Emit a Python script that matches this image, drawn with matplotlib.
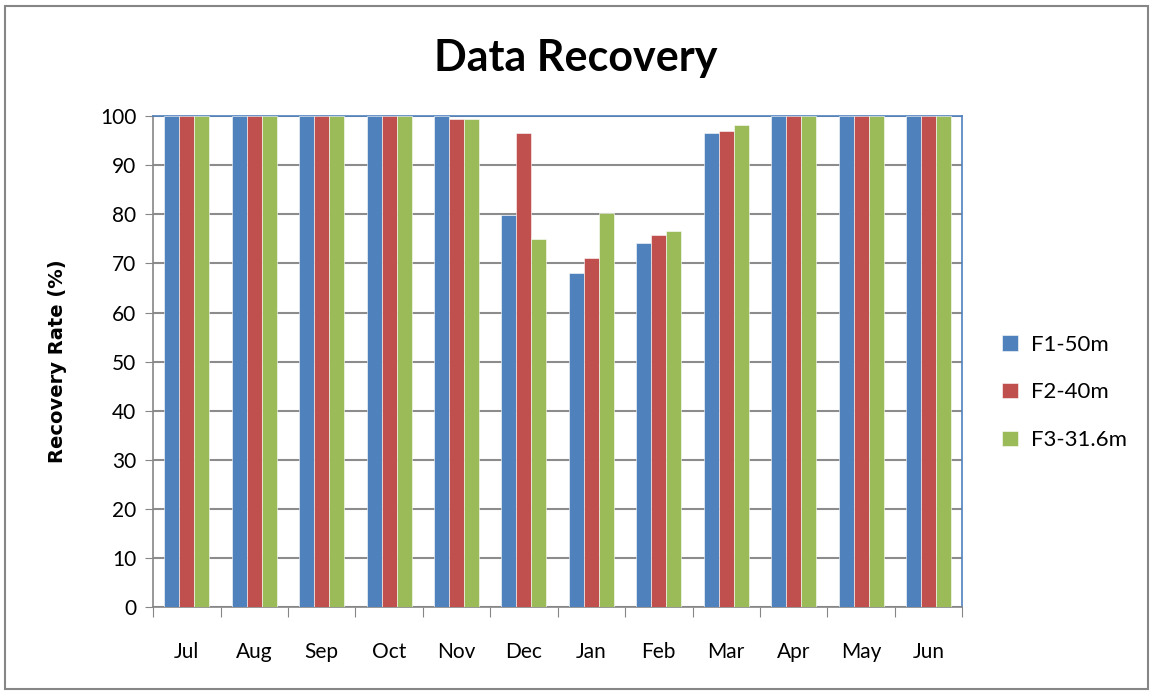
import numpy as np
import matplotlib.pyplot as plt
from matplotlib.patches import Rectangle

months = ['Jul', 'Aug', 'Sep', 'Oct', 'Nov', 'Dec', 'Jan', 'Feb', 'Mar', 'Apr', 'May', 'Jun']
series_names = ['F1-50m', 'F2-40m', 'F3-31.6m']
f1 = [100, 100, 100, 100, 100, 79.8, 68.0, 74.1, 96.6, 100, 100, 100]
f2 = [100, 100, 100, 100, 99.4, 96.6, 71.2, 75.8, 97.0, 100, 100, 100]
f3 = [100, 100, 100, 100, 99.4, 74.9, 80.2, 76.6, 98.2, 100, 100, 100]
colors = ['#4F81BD', '#C0504D', '#9BBB59']

plt.rcParams['font.family'] = ['Lato', 'DejaVu Sans']

fig = plt.figure(figsize=(11.51, 6.92), dpi=100)
ax = fig.add_axes([0.133, 0.123, 0.703, 0.709])

x = np.arange(len(months))
w = 1 / 4.5
for i, (vals, name) in enumerate(zip([f1, f2, f3], series_names)):
    ax.bar(x + (i - 1) * w, vals, w, color=colors[i], label=name,
           edgecolor='white', linewidth=0.4, zorder=3)

ax.set_xlim(-0.5, len(months) - 0.5)
ax.set_ylim(0, 100)
ax.set_yticks(range(0, 101, 10))
ax.set_xticks(np.arange(len(months) + 1) - 0.5, minor=False)
ax.set_xticklabels([])
ax.set_xticks(x, minor=True)
ax.set_xticklabels(months, minor=True, fontsize=15)
ax.tick_params(axis='x', which='major', length=7, color='#868686', direction='out')
ax.tick_params(axis='x', which='minor', length=0, pad=25)
ax.tick_params(axis='y', length=6, color='#868686', labelsize=15, pad=6)

ax.grid(axis='y', color='#8C8C8C', linewidth=1.5, zorder=0)
for s in ['top', 'right']:
    ax.spines[s].set_color('#4F81BD')
    ax.spines[s].set_linewidth(1.2)
for s in ['left', 'bottom']:
    ax.spines[s].set_color('#868686')
    ax.spines[s].set_linewidth(1.2)

ax.set_ylabel('Recovery Rate (%)', fontsize=14, fontweight='bold',
              family='DejaVu Sans', labelpad=24)
fig.suptitle('Data Recovery', fontsize=31, fontweight='bold', y=0.945)

ax.legend(loc='center left', bbox_to_anchor=(1.025, 0.437), frameon=False,
          fontsize=16, handlelength=0.7, handleheight=0.7, labelspacing=1.25,
          handletextpad=0.6)

fig.patches.append(Rectangle((5 / 1151, 3 / 692), 1 - 8 / 1151, 1 - 9 / 692,
                             transform=fig.transFigure, fill=False,
                             edgecolor='#868686', linewidth=1.5))

fig.savefig('out.png', dpi=100)
